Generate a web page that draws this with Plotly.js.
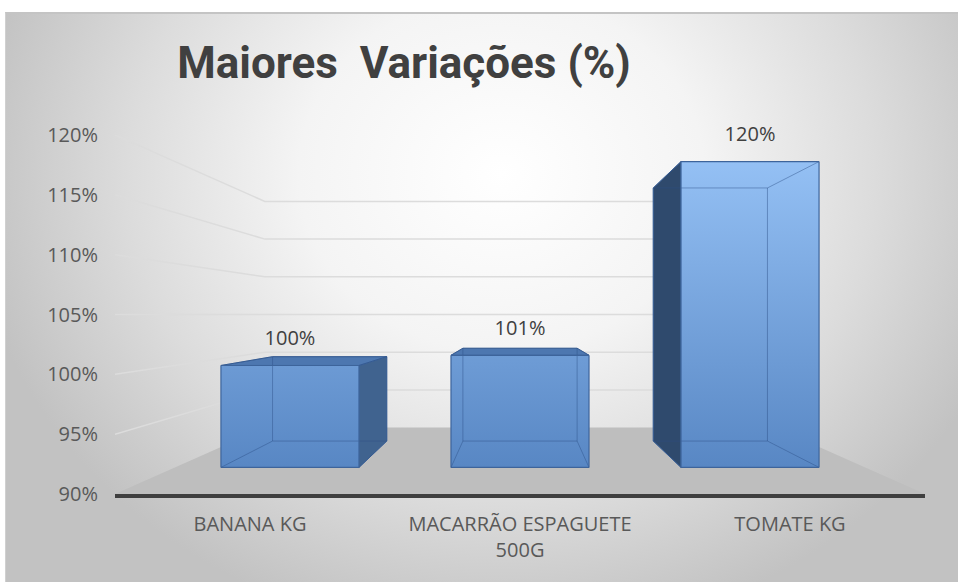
<!DOCTYPE html>
<html>
<head>
<meta charset="utf-8">
<script src="https://cdn.plot.ly/plotly-3.0.1.min.js"></script>
<style>
  html, body { margin: 0; padding: 0; background: #ffffff; }
  #bg {
    position: absolute; left: 5px; top: 12px; width: 953px; height: 570px;
    border-top: 2px solid #c4c4c4; border-left: 1px solid #d0d0d0;
    background: radial-gradient(ellipse 56% 82% at 52% 28%, #ffffff 0%, #f4f4f4 38%, #dcdcdc 70%, #c2c2c2 100%);
  }
  #chart { position: absolute; left: 0; top: 0; width: 958px; height: 582px; }
</style>
</head>
<body>
<div id="bg"></div>
<div id="chart"></div>
<script>
// ---- data ----
const categories = ['BANANA KG', 'MACARRÃO ESPAGUETE<br>500G', 'TOMATE KG'];
const values = [100, 101, 120];
const yTickValues = [90, 95, 100, 105, 110, 115, 120];
const yTickLabels = ['90%', '95%', '100%', '105%', '110%', '115%', '120%'];
const valueLabels = ['100%', '101%', '120%'];
const yMin = 90, yMax = 120;

// ---- perspective (style) ----
const n = categories.length;
const VX = n / 2;          // horizontal vanishing position (axis units)
const VY = 105;            // eye level (axis units)
const F_BAR_FRONT = 0.852; // depth scale of bar front faces
const F_BAR_BACK = 0.705;  // depth scale of bar back faces
const F_WALL = 0.63;       // depth scale of back wall
const BAR_HALF = 0.30;     // half bar width (category units)

function P(x, y, f) { return [VX + (x - VX) * f, VY + (y - VY) * f]; }
function poly(pts, extra) {
  const xs = pts.map(p => p[0]); const ys = pts.map(p => p[1]);
  xs.push(pts[0][0]); ys.push(pts[0][1]);
  return Object.assign({ x: xs, y: ys, type: 'scatter', mode: 'lines', fill: 'toself',
    hoverinfo: 'skip', showlegend: false }, extra);
}
function segs(list, extra) {
  const xs = [], ys = [];
  list.forEach(s => { xs.push(s[0][0], s[1][0], null); ys.push(s[0][1], s[1][1], null); });
  return Object.assign({ x: xs, y: ys, type: 'scatter', mode: 'lines', hoverinfo: 'skip', showlegend: false }, extra);
}

const traces = [];

// floor
traces.push(poly([P(0, yMin, 1), P(n, yMin, 1), P(n, yMin, F_WALL), P(0, yMin, F_WALL)],
  { fillcolor: '#bebebe', line: { width: 0 } }));

// perspective gridlines (side wall + back wall)
{
  const xs = [], ys = [];
  yTickValues.filter(v => v > yMin).forEach(v => {
    const a = P(0, v, 1), b = P(0, v, F_WALL), c = P(n, v, F_WALL);
    xs.push(a[0], b[0], c[0], null); ys.push(a[1], b[1], c[1], null);
  });
  traces.push({ x: xs, y: ys, type: 'scatter', mode: 'lines', line: { color: '#dcdcdc', width: 1.5 },
    hoverinfo: 'skip', showlegend: false });
}

// bars
const gradBottom = P(0, yMin, F_BAR_FRONT)[1];
const gradTop = P(0, Math.max(...values), F_BAR_FRONT)[1];
const edgeColor = '#3d649b';
const labX = [], labY = [];
values.forEach((v, i) => {
  const c = i + 0.5;
  const A = P(c - BAR_HALF, yMin, F_BAR_FRONT), B = P(c + BAR_HALF, yMin, F_BAR_FRONT);
  const C = P(c + BAR_HALF, v, F_BAR_FRONT), D = P(c - BAR_HALF, v, F_BAR_FRONT);
  const A2 = P(c - BAR_HALF, yMin, F_BAR_BACK), B2 = P(c + BAR_HALF, yMin, F_BAR_BACK);
  const C2 = P(c + BAR_HALF, v, F_BAR_BACK), D2 = P(c - BAR_HALF, v, F_BAR_BACK);
  if (c < VX) traces.push(poly([B, C, C2, B2], { fillcolor: '#40638f', line: { color: edgeColor, width: 1 } }));
  if (c > VX) traces.push(poly([A, D, D2, A2], { fillcolor: '#2f4a6d', line: { color: edgeColor, width: 1 } }));
  if (v < VY) traces.push(poly([D, C, C2, D2], { fillcolor: '#4d77b0', line: { color: edgeColor, width: 1 } }));
  traces.push(poly([A, B, C, D], {
    fillcolor: '#6a98d3',
    fillgradient: { type: 'vertical', start: gradBottom, stop: gradTop,
      colorscale: [[0, '#5887c4'], [1, '#94c0f4']] },
    line: { width: 0 }
  }));
  traces.push(segs([[A2, B2], [B2, C2], [C2, D2], [D2, A2], [A, A2], [B, B2], [C, C2], [D, D2]],
    { line: { color: 'rgba(45,80,135,0.45)', width: 1 } }));
  traces.push(segs([[A, B], [B, C], [C, D], [D, A]], { line: { color: edgeColor, width: 1.2 } }));
  const top = P(c, v, F_BAR_FRONT);
  labX.push(top[0]); labY.push(top[1] + 2.1);
});

// value labels
traces.push({ x: labX, y: labY, text: valueLabels, type: 'scatter', mode: 'text',
  textposition: 'middle center', cliponaxis: false,
  textfont: { family: 'Open Sans', size: 20, color: '#404040' }, hoverinfo: 'skip', showlegend: false });

const layout = {
  width: 958, height: 582,
  margin: { l: 115, r: 33, t: 135, b: 88 },
  paper_bgcolor: 'rgba(0,0,0,0)', plot_bgcolor: 'rgba(0,0,0,0)',
  title: {
    text: 'Maiores\u00a0\u00a0Variações (%)',
    x: 0.4217, xref: 'container', xanchor: 'center',
    y: 0.892, yref: 'container', yanchor: 'middle',
    font: { family: 'Roboto', size: 44, color: '#404040', weight: 700 }
  },
  xaxis: {
    range: [0, n], tickvals: categories.map((_, i) => i + 0.5), ticktext: categories,
    showgrid: false, zeroline: false, showline: true, linecolor: '#3f3f3f', linewidth: 4,
    ticks: '', ticklabelstandoff: 9,
    tickfont: { family: 'Open Sans', size: 20, color: '#595959' }, fixedrange: true
  },
  yaxis: {
    range: [yMin, yMax], tickvals: yTickValues, ticktext: yTickLabels,
    showgrid: false, zeroline: false, showline: false,
    ticks: '', ticklabelstandoff: 16,
    tickfont: { family: 'Open Sans', size: 20, color: '#595959' }, fixedrange: true
  }
};

Plotly.newPlot('chart', traces, layout, { displayModeBar: false, staticPlot: true });
</script>
</body>
</html>
